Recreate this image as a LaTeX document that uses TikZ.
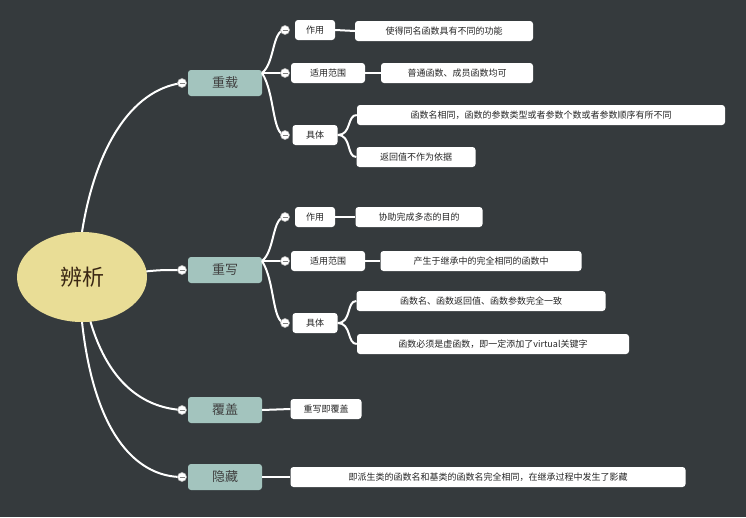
\documentclass[tikz,border=0pt]{standalone}
\usetikzlibrary{shapes.geometric}
\usepackage{fontspec}
\setmainfont{Noto Sans CJK SC}
\begin{document}
\begin{tikzpicture}[x=1pt,y=-1pt,
  lf/.style={fill=white,rounded corners=3pt,inner sep=0pt,minimum height=20pt,font=\fontsize{9}{10}\selectfont,text=black!85},
  lv/.style={lf},
  top/.style={rounded corners=3pt,minimum height=26pt,minimum width=74pt,font=\fontsize{13}{14}\selectfont,text=black!75},
  ln/.style={white,line width=2pt},
  col/.style={circle,draw=gray!60,fill=white,line width=0.6pt,inner sep=0pt,minimum size=9pt,path picture={\draw[gray,line width=0.8pt] ([xshift=-2.5pt]path picture bounding box.center)--([xshift=2.5pt]path picture bounding box.center);}}]
\definecolor{bg}{HTML}{353A3D}
\definecolor{tp}{HTML}{A3C4BE}
\definecolor{rt}{HTML}{E9DD96}
\fill[bg] (0,0) rectangle (746,517);
\draw[ln] (82,232) .. controls (95,150) and (130,90) .. (182,83) coordinate (ea);
\draw[ln] (140,272) .. controls (160,270) .. (182,270) coordinate (eb);
\draw[ln] (90,320) .. controls (110,390) and (150,408) .. (182,410) coordinate (ec);
\draw[ln] (82,322) .. controls (95,440) and (140,477) .. (182,477) coordinate (ed);
\node[ellipse,fill=rt,minimum width=130pt,minimum height=90pt,font=\fontsize{22}{24}\selectfont,text=black!70!brown] (root) at (82,277) {辨析};
% level1
\foreach \n/\t/\y in {a/重载/83,b/重写/270,c/覆盖/410,d/隐藏/477}{
  \node[top,fill=tp] (\n) at (225,\y) {\t};
  \node[col] (\n c) at (182,\y) {};
}
% level2 for a and b
\foreach \p/\ya/\yb/\yc in {a/30/73/135,b/217/261/323}{
  \draw[ln] (262,\yb) .. controls (275,\yb-10) and (272,\ya) .. (285,\ya);
  \draw[ln] (262,\yb) .. controls (270,\yb) .. (285,\yb);
  \draw[ln] (262,\yb) .. controls (275,\yb+20) and (272,\yc) .. (285,\yc);
  \node[lv,minimum width=40pt] (\p1) at (315,\ya) {作用};
  \node[lv,minimum width=74pt] (\p2) at (328,\yb) {适用范围};
  \node[lv,minimum width=45pt] (\p3) at (315,\yc) {具体};
  \node[col] (\p1c) at (285,\ya) {};
  \node[col] (\p2c) at (285,\yb) {};
  \node[col] (\p3c) at (285,\yc) {};
}
\node[lf,minimum width=178pt] (a11) at (444,31) {使得同名函数具有不同的功能};
\node[lf,minimum width=152pt] (a21) at (457,73) {普通函数、成员函数均可};
\node[lf,minimum width=368pt] (a31) at (541,115) {函数名相同，函数的参数类型或者参数个数或者参数顺序有所不同};
\node[lf,minimum width=119pt] (a32) at (416,157) {返回值不作为依据};
\node[lf,minimum width=127pt] (b11) at (419,217) {协助完成多态的目的};
\node[lf,minimum width=201pt] (b21) at (481,261) {产生于继承中的完全相同的函数中};
\node[lf,minimum width=249pt] (b31) at (481,301) {函数名、函数返回值、函数参数完全一致};
\node[lf,minimum width=272pt] (b32) at (493,344) {函数必须是虚函数，即一定添加了virtual关键字};
\node[lf,minimum width=71pt] (c1) at (326,409) {重写即覆盖};
\node[lf,minimum width=395pt] (d1) at (488,477) {即派生类的函数名和基类的函数名完全相同，在继承过程中发生了影藏};
\foreach \u/\v in {a1/a11,a2/a21,b1/b11,b2/b21,c/c1,d/d1}{\draw[ln] (\u.east)--(\v.west);}
\foreach \u/\v in {a3/a31,a3/a32,b3/b31,b3/b32}{\draw[ln] (\u.east) .. controls ([xshift=14pt]\u.east) and ([xshift=-10pt]\v.west) .. (\v.west);}
\end{tikzpicture}
\end{document}
